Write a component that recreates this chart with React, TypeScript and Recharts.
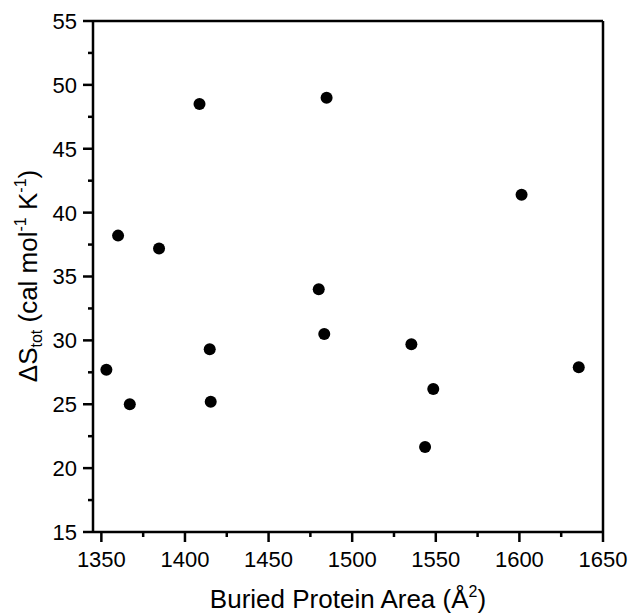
import React from 'react';
import { ScatterChart, Scatter, XAxis, YAxis } from 'recharts';

// buried protein area (Å²) and total entropy change (cal mol-1 K-1)
const area = [1353, 1360, 1367, 1384.5, 1408.7, 1414.8, 1415.4, 1480, 1483.3, 1484.7, 1535.4, 1543.6, 1548.5, 1601.3, 1635.5];
const dS = [27.7, 38.2, 25.0, 37.2, 48.5, 29.3, 25.2, 34.0, 30.5, 49.0, 29.7, 21.65, 26.2, 41.4, 27.9];

const xTicks = [1350, 1375, 1400, 1425, 1450, 1475, 1500, 1525, 1550, 1575, 1600, 1625, 1650];
const yTicks = [15, 17.5, 20, 22.5, 25, 27.5, 30, 32.5, 35, 37.5, 40, 42.5, 45, 47.5, 50, 52.5, 55];

const points = area.map((a, i) => ({ x: a, y: dS[i] }));

const FONT = 'Arial, "Liberation Sans", Helvetica, sans-serif';
const TICK_FS = 22;
const SW = 2.5;

const BottomTick = (props: any) => {
  const { x, y, payload } = props;
  const major = payload.value % 50 === 0;
  return (
    <g>
      <line x1={x} x2={x} y1={y} y2={y + (major ? 10 : 5)} stroke="#000" strokeWidth={SW} />
      {major && (
        <text x={x} y={y + 35} textAnchor="middle" fontSize={TICK_FS} fontFamily={FONT} fill="#000">
          {payload.value}
        </text>
      )}
    </g>
  );
};

const TopTick = (props: any) => {
  const { x, y, payload } = props;
  const major = payload.value % 50 === 0;
  return <line x1={x} x2={x} y1={y} y2={y + (major ? 10 : 5)} stroke="#000" strokeWidth={SW} />;
};

const LeftTick = (props: any) => {
  const { x, y, payload } = props;
  const major = payload.value % 5 === 0;
  return (
    <g>
      <line x1={x} x2={x - (major ? 10 : 5)} y1={y} y2={y} stroke="#000" strokeWidth={SW} />
      {major && (
        <text x={x - 16} y={y} dy="0.36em" textAnchor="end" fontSize={TICK_FS} fontFamily={FONT} fill="#000">
          {payload.value}
        </text>
      )}
    </g>
  );
};

const RightTick = (props: any) => {
  const { x, y, payload } = props;
  const major = payload.value % 5 === 0;
  return <line x1={x} x2={x - (major ? 10 : 5)} y1={y} y2={y} stroke="#000" strokeWidth={SW} />;
};

const XTitle = () => (
  <text x={348} y={608} textAnchor="middle" fontSize={26} fontFamily={FONT} fill="#000">
    <tspan>Buried Protein Area (Å</tspan>
    <tspan fontSize={16} dy={-11}>2</tspan>
    <tspan dy={11}>)</tspan>
  </text>
);

const YTitle = () => (
  <text
    x={0}
    y={0}
    transform="translate(37,276) rotate(-90)"
    textAnchor="middle"
    fontSize={26}
    fontFamily={FONT}
    fill="#000"
  >
    <tspan>ΔS</tspan>
    <tspan fontSize={16} dy={5}>tot</tspan>
    <tspan dy={-5}> (cal mol</tspan>
    <tspan fontSize={16} dy={-11}>-1</tspan>
    <tspan dy={11}> K</tspan>
    <tspan fontSize={16} dy={-11}>-1</tspan>
    <tspan dy={11}>)</tspan>
  </text>
);

export default function App() {
  return (
    <div style={{ position: 'absolute', left: 0, top: 0, background: '#fff' }}>
      <ScatterChart width={628} height={613} margin={{ top: 0, right: 0, bottom: 0, left: 0 }}>
        <XAxis
          xAxisId="bottom"
          dataKey="x"
          type="number"
          domain={[1345, 1650]}
          ticks={xTicks}
          interval={0}
          height={81}
          tickSize={0}
          tickMargin={0}
          tickLine={false}
          axisLine={{ stroke: '#000', strokeWidth: SW }}
          tick={(p: any) => <BottomTick {...p} />}
          label={<XTitle />}
        />
        <XAxis
          xAxisId="top"
          orientation="top"
          type="number"
          domain={[1345, 1650]}
          ticks={xTicks}
          interval={0}
          height={21}
          tickSize={0}
          tickMargin={0}
          tickLine={false}
          axisLine={{ stroke: '#000', strokeWidth: SW }}
          tick={(p: any) => <TopTick {...p} />}
        />
        <YAxis
          yAxisId="left"
          dataKey="y"
          type="number"
          domain={[15, 55]}
          ticks={yTicks}
          interval={0}
          width={93}
          tickSize={0}
          tickMargin={0}
          tickLine={false}
          axisLine={{ stroke: '#000', strokeWidth: SW }}
          tick={(p: any) => <LeftTick {...p} />}
          label={<YTitle />}
        />
        <YAxis
          yAxisId="right"
          orientation="right"
          type="number"
          domain={[15, 55]}
          ticks={yTicks}
          interval={0}
          width={25}
          tickSize={0}
          tickMargin={0}
          tickLine={false}
          axisLine={{ stroke: '#000', strokeWidth: SW }}
          tick={(p: any) => <RightTick {...p} />}
        />
        <Scatter
          xAxisId="bottom"
          yAxisId="left"
          data={points}
          isAnimationActive={false}
          shape={(p: any) => <circle cx={p.cx} cy={p.cy} r={6} fill="#000" />}
        />
      </ScatterChart>
    </div>
  );
}
